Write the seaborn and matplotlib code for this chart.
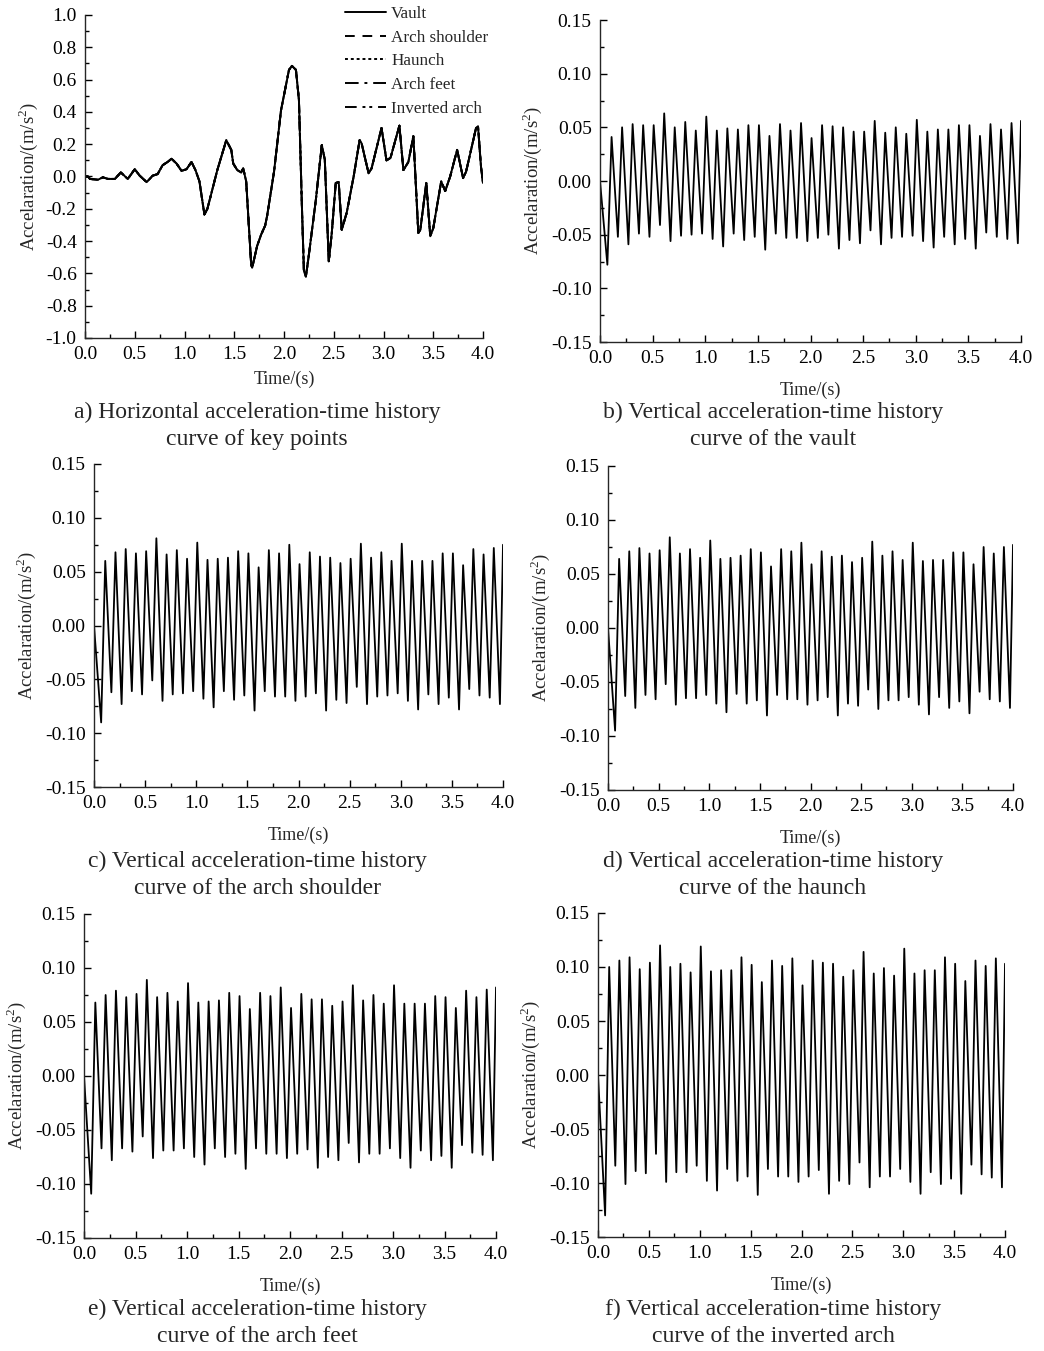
import numpy as np
import pandas as pd
import matplotlib
matplotlib.use("Agg")
import matplotlib.pyplot as plt
from matplotlib.ticker import MultipleLocator, FormatStrFormatter
import seaborn as sns

# --- data ---

# a) horizontal acceleration, all five key points overlap
horiz_t = [0.00, 0.03, 0.05, 0.13, 0.18, 0.23, 0.30, 0.36, 0.43, 0.50, 0.55, 0.62, 0.68, 0.73,
           0.78, 0.83, 0.87, 0.92, 0.97, 1.02, 1.07, 1.11, 1.15, 1.20, 1.23, 1.33, 1.42, 1.47,
           1.49, 1.53, 1.57, 1.59, 1.62, 1.67, 1.68, 1.73, 1.77, 1.81, 1.83, 1.90, 1.97, 2.05,
           2.08, 2.12, 2.15, 2.18, 2.20, 2.22, 2.25, 2.32, 2.38, 2.41, 2.45, 2.48, 2.52, 2.55,
           2.58, 2.63, 2.70, 2.76, 2.78, 2.85, 2.88, 2.98, 3.03, 3.07, 3.16, 3.20, 3.25, 3.30,
           3.35, 3.37, 3.43, 3.47, 3.50, 3.58, 3.62, 3.67, 3.74, 3.80, 3.83, 3.93, 3.95, 3.98, 4.00]
horiz_acc = [0.0, 0.0, -0.015, -0.02, -0.005, -0.015, -0.015, 0.025, -0.015, 0.045, 0.005, -0.035,
             0.005, 0.015, 0.07, 0.09, 0.11, 0.08, 0.035, 0.045, 0.09, 0.04, -0.03, -0.235, -0.2,
             0.04, 0.225, 0.165, 0.08, 0.04, 0.025, 0.05, -0.03, -0.545, -0.565, -0.43, -0.36,
             -0.305, -0.245, 0.03, 0.41, 0.66, 0.685, 0.66, 0.475, -0.185, -0.58, -0.62, -0.485,
             -0.145, 0.195, 0.105, -0.525, -0.35, -0.04, -0.035, -0.33, -0.225, 0.0, 0.225, 0.205,
             0.02, 0.05, 0.30, 0.10, 0.115, 0.315, 0.04, 0.09, 0.25, -0.35, -0.33, -0.04, -0.37,
             -0.32, -0.03, -0.09, 0.0, 0.165, -0.01, 0.03, 0.30, 0.31, 0.06, -0.04]
key_points = ["Vault", "Arch shoulder", "Haunch", "Arch feet", "Inverted arch"]

# b)-f) vertical acceleration: times of troughs and peaks
trough_t = [0.07, 0.17, 0.27, 0.37, 0.47, 0.57, 0.67, 0.77, 0.87, 0.97,
            1.07, 1.17, 1.27, 1.37, 1.47, 1.57, 1.67, 1.77, 1.87, 1.97,
            2.07, 2.17, 2.27, 2.37, 2.47, 2.57, 2.67, 2.77, 2.87, 2.97,
            3.07, 3.17, 3.27, 3.37, 3.47, 3.57, 3.67, 3.77, 3.87, 3.97]
peak_t = [0.11, 0.21, 0.31, 0.41, 0.51, 0.61, 0.71, 0.81, 0.91, 1.01,
          1.11, 1.21, 1.31, 1.41, 1.51, 1.61, 1.71, 1.81, 1.91, 2.01,
          2.11, 2.21, 2.31, 2.41, 2.51, 2.61, 2.71, 2.81, 2.91, 3.01,
          3.11, 3.21, 3.31, 3.41, 3.51, 3.61, 3.71, 3.81, 3.91]
end_t = 4.0

vault_trough = [-0.078, -0.052, -0.059, -0.049, -0.052, -0.041, -0.056, -0.051, -0.050, -0.049,
                -0.054, -0.061, -0.049, -0.055, -0.052, -0.064, -0.049, -0.053, -0.053, -0.056,
                -0.053, -0.050, -0.063, -0.055, -0.058, -0.046, -0.059, -0.053, -0.052, -0.051,
                -0.056, -0.062, -0.052, -0.059, -0.054, -0.063, -0.048, -0.052, -0.054, -0.058]
vault_peak = [0.041, 0.050, 0.053, 0.052, 0.052, 0.063, 0.050, 0.055, 0.047, 0.060,
              0.047, 0.049, 0.048, 0.052, 0.052, 0.042, 0.053, 0.047, 0.054, 0.040,
              0.052, 0.051, 0.050, 0.046, 0.046, 0.056, 0.045, 0.050, 0.044, 0.057,
              0.046, 0.048, 0.048, 0.052, 0.052, 0.042, 0.053, 0.048, 0.054]
vault_end = 0.056

shoulder_trough = [-0.090, -0.062, -0.073, -0.061, -0.064, -0.051, -0.070, -0.064, -0.063, -0.061,
                   -0.068, -0.076, -0.061, -0.069, -0.065, -0.079, -0.061, -0.066, -0.066, -0.070,
                   -0.066, -0.063, -0.079, -0.069, -0.072, -0.057, -0.073, -0.066, -0.065, -0.063,
                   -0.070, -0.078, -0.064, -0.073, -0.067, -0.078, -0.059, -0.065, -0.067, -0.073]
shoulder_peak = [0.060, 0.068, 0.071, 0.067, 0.069, 0.081, 0.066, 0.070, 0.062, 0.077,
                 0.061, 0.062, 0.063, 0.069, 0.067, 0.054, 0.070, 0.067, 0.075, 0.057,
                 0.068, 0.064, 0.063, 0.058, 0.062, 0.076, 0.063, 0.068, 0.060, 0.076,
                 0.060, 0.060, 0.060, 0.067, 0.067, 0.056, 0.071, 0.066, 0.072]
shoulder_end = 0.075

haunch_trough = [-0.095, -0.063, -0.074, -0.062, -0.066, -0.052, -0.071, -0.065, -0.065, -0.062,
                 -0.070, -0.078, -0.061, -0.070, -0.067, -0.081, -0.062, -0.066, -0.066, -0.071,
                 -0.067, -0.064, -0.081, -0.070, -0.072, -0.057, -0.075, -0.067, -0.067, -0.064,
                 -0.071, -0.080, -0.064, -0.074, -0.068, -0.079, -0.059, -0.066, -0.068, -0.074]
haunch_peak = [0.064, 0.071, 0.074, 0.069, 0.072, 0.084, 0.069, 0.073, 0.065, 0.081,
               0.064, 0.065, 0.067, 0.073, 0.070, 0.057, 0.073, 0.071, 0.079, 0.059,
               0.071, 0.066, 0.067, 0.061, 0.065, 0.080, 0.067, 0.071, 0.063, 0.079,
               0.062, 0.063, 0.063, 0.070, 0.070, 0.059, 0.075, 0.069, 0.075]
haunch_end = 0.077

feet_trough = [-0.109, -0.067, -0.078, -0.067, -0.070, -0.056, -0.076, -0.069, -0.069, -0.067,
               -0.075, -0.082, -0.067, -0.075, -0.072, -0.086, -0.067, -0.072, -0.072, -0.076,
               -0.072, -0.068, -0.085, -0.075, -0.078, -0.062, -0.080, -0.072, -0.072, -0.067,
               -0.076, -0.085, -0.069, -0.078, -0.074, -0.085, -0.064, -0.071, -0.073, -0.078]
feet_peak = [0.068, 0.075, 0.079, 0.073, 0.076, 0.089, 0.073, 0.077, 0.069, 0.086,
             0.068, 0.069, 0.070, 0.077, 0.074, 0.062, 0.077, 0.074, 0.082, 0.063,
             0.076, 0.071, 0.071, 0.065, 0.069, 0.084, 0.070, 0.075, 0.067, 0.084,
             0.067, 0.067, 0.067, 0.074, 0.073, 0.063, 0.079, 0.073, 0.080]
feet_end = 0.082

inverted_trough = [-0.130, -0.084, -0.101, -0.089, -0.091, -0.073, -0.099, -0.090, -0.090, -0.084,
                   -0.098, -0.107, -0.087, -0.098, -0.094, -0.111, -0.087, -0.094, -0.094, -0.099,
                   -0.094, -0.088, -0.110, -0.098, -0.101, -0.081, -0.104, -0.094, -0.094, -0.087,
                   -0.099, -0.110, -0.090, -0.101, -0.096, -0.110, -0.083, -0.092, -0.095, -0.104]
inverted_peak = [0.100, 0.106, 0.109, 0.098, 0.104, 0.120, 0.100, 0.103, 0.095, 0.119,
                 0.096, 0.097, 0.097, 0.109, 0.102, 0.086, 0.106, 0.101, 0.108, 0.083,
                 0.106, 0.104, 0.103, 0.091, 0.097, 0.114, 0.094, 0.099, 0.092, 0.117,
                 0.094, 0.097, 0.097, 0.109, 0.103, 0.087, 0.106, 0.101, 0.108]
inverted_end = 0.103

captions = [
    "a) Horizontal acceleration-time history\ncurve of key points",
    "b) Vertical acceleration-time history\ncurve of the vault",
    "c) Vertical acceleration-time history\ncurve of the arch shoulder",
    "d) Vertical acceleration-time history\ncurve of the haunch",
    "e) Vertical acceleration-time history\ncurve of the arch feet",
    "f) Vertical acceleration-time history\ncurve of the inverted arch",
]


def vertical_frame(troughs, peaks, end_value):
    t = [0.0]
    v = [0.0]
    for i in range(len(troughs)):
        t.append(trough_t[i])
        v.append(troughs[i])
        if i < len(peaks):
            t.append(peak_t[i])
            v.append(peaks[i])
    t.append(end_t)
    v.append(end_value)
    return pd.DataFrame({"Time": t, "Acc": v})


# --- style ---
sns.set_theme(style="ticks")
plt.rcParams["font.family"] = ["Liberation Serif", "DejaVu Serif"]
plt.rcParams["mathtext.fontset"] = "custom"
plt.rcParams["mathtext.rm"] = "Liberation Serif"
plt.rcParams["axes.unicode_minus"] = False
plt.rcParams["xtick.direction"] = "in"
plt.rcParams["ytick.direction"] = "in"
plt.rcParams["axes.linewidth"] = 1.0

W, H = 1044, 1351
fig = plt.figure(figsize=(W / 100, H / 100), dpi=100)


def px_axes(left, right, top, bottom):
    return fig.add_axes([left / W, 1 - bottom / H, (right - left) / W, (bottom - top) / H])


def style_axes(ax, ylim, ymajor, yminor, yfmt, xpad, ypad):
    ax.set_xlim(0, 4.0)
    ax.set_ylim(*ylim)
    ax.xaxis.set_major_locator(MultipleLocator(0.5))
    ax.xaxis.set_minor_locator(MultipleLocator(0.25))
    ax.yaxis.set_major_locator(MultipleLocator(ymajor))
    ax.yaxis.set_minor_locator(MultipleLocator(yminor))
    ax.xaxis.set_major_formatter(FormatStrFormatter("%.1f"))
    ax.yaxis.set_major_formatter(FormatStrFormatter(yfmt))
    ax.tick_params(which="major", length=5, width=1, labelsize=14, colors="black")
    ax.tick_params(axis="y", which="major", pad=6)
    ax.tick_params(axis="x", which="major", pad=6)
    ax.tick_params(which="minor", length=3, width=1, colors="black")
    sns.despine(ax=ax)
    ax.set_xlabel("Time/(s)", fontsize=13, labelpad=xpad)
    ax.set_ylabel("Accelaration/(m/s$^2$)", fontsize=13.5, labelpad=ypad)


# a) horizontal
ax = px_axes(85, 483, 15, 338)
horiz_df = pd.DataFrame({"Time": horiz_t, "Acc": horiz_acc})
line_styles = ["-", (0, (5, 4)), (0, (1.5, 1.5)), (0, (7, 3, 1.5, 3)), (0, (6, 3, 1.5, 2, 1.5, 3))]
for name, ls in zip(key_points, line_styles):
    sns.lineplot(data=horiz_df, x="Time", y="Acc", ax=ax, color="black", lw=1.4,
                 linestyle=ls, label=name, estimator=None)
style_axes(ax, (-1.0, 1.0), 0.2, 0.1, "%.1f", 5, 4)
ax.legend(loc="upper left", bbox_to_anchor=(345 / W, 1 - 6 / H), bbox_transform=fig.transFigure,
          frameon=False, fontsize=12.3, handlelength=2.4, handletextpad=0.3,
          labelspacing=0.45, borderpad=0, borderaxespad=0)

# b)-f) vertical
panels = [
    ((600, 1021, 20, 342), vertical_frame(vault_trough, vault_peak, vault_end)),
    ((94, 503, 464, 787), vertical_frame(shoulder_trough, shoulder_peak, shoulder_end)),
    ((608, 1013, 466, 790), vertical_frame(haunch_trough, haunch_peak, haunch_end)),
    ((84, 496, 914, 1238), vertical_frame(feet_trough, feet_peak, feet_end)),
    ((598, 1005, 913, 1237), vertical_frame(inverted_trough, inverted_peak, inverted_end)),
]
for (l, r, t, b), df in panels:
    ax = px_axes(l, r, t, b)
    sns.lineplot(data=df, x="Time", y="Acc", ax=ax, color="black", lw=1.3, estimator=None)
    style_axes(ax, (-0.15, 0.15), 0.05, 0.025, "%.2f", 10, 5)

# captions
cap_pos = [(257, 426), (773, 426), (257, 875), (773, 875), (257, 1323), (773, 1323)]
for text, (cx, cy) in zip(captions, cap_pos):
    fig.text(cx / W, 1 - cy / H, text, ha="center", va="center", fontsize=17,
             linespacing=1.4, transform=fig.transFigure)

fig.savefig("out.png", dpi=100)
